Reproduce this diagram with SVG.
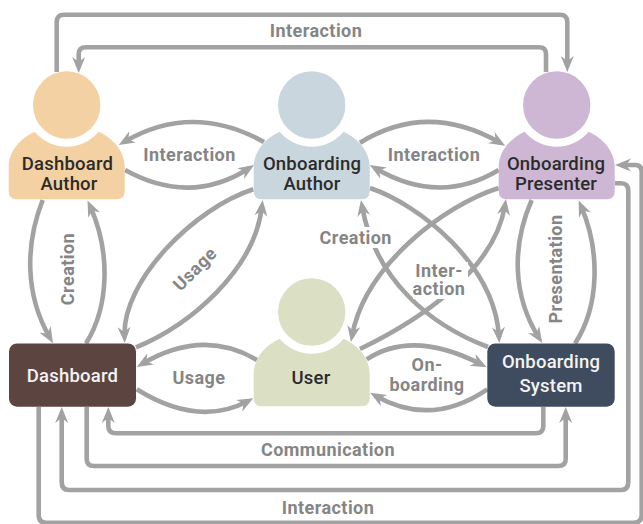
<svg xmlns="http://www.w3.org/2000/svg" width="643" height="524" viewBox="0 0 643 524">
<style>
.c{fill:none;stroke:#a2a2a2;stroke-width:4.6;stroke-linejoin:round}
.a{marker-end:url(#ah)}
.l{font-family:"Roboto","Liberation Sans",sans-serif;font-weight:700;font-size:18px;letter-spacing:.45px;fill:#858585;text-anchor:middle}
.n{font-family:"Roboto","Liberation Sans",sans-serif;font-weight:500;font-size:18.500px;letter-spacing:.2px;fill:#2b2b2b;text-anchor:middle}
.w{fill:#f3f3f3}
</style>
<defs>
<marker id="ah" markerUnits="userSpaceOnUse" markerWidth="20" markerHeight="20" refX="10" refY="8" orient="auto" viewBox="0 0 20 16"><path d="M0 1.500L16 8L0 14.500L5 8Z" fill="#a2a2a2"/></marker>
<path id="person" d="M-32 26.700C-46 33-58 46-58 62V86Q-58 94.300-50 94.300H50Q58 94.300 58 86V62C58 46 46 33 32 26.700A41.500 41.500 0 0 1-32 26.700Z"/>
</defs>
<rect width="643" height="524" fill="#fff"/>
<g id="connectors">
<path class="c a" d="M56.700 72V22Q56.700 14.700 64 14.700H560Q567.300 14.700 567.300 22V66"/>
<path class="c a" d="M546 72V54Q546 47.300 539 47.300H86Q78.700 47.300 78.700 54V67"/>
<path class="c a" d="M264 142Q192 102 124 142"/>
<path class="c a" d="M125 170Q190.500 206 249 168.200"/>
<path class="c a" d="M360 142.700Q427.500 101 500 142.700"/>
<path class="c a" d="M498.700 170Q439 206 375 168"/>
<path class="c a" d="M42.700 200C25 245 25 295 50 338"/>
<path class="c a" d="M86 343.500C110 305 110 250 90 206"/>
<path class="c a" d="M253.300 189.300C195 208 122 280 124.500 337"/>
<path class="c a" d="M136 347.300C190 325 255 270 262 206"/>
<path class="c a" d="M370 188C420 205 495 265 499 337"/>
<path class="c a" d="M488 347C430 325 375 280 362 206"/>
<path class="c a" d="M498.700 188C445 205 365 265 352 336"/>
<path class="c a" d="M360 349C420 320 495 270 505 205"/>
<path class="c a" d="M531.700 200C512 245 512 295 539 338"/>
<path class="c a" d="M575 343.500C600 305 600 250 581 206"/>
<path class="c a" d="M257 360Q203 328 142 364"/>
<path class="c a" d="M136.700 389.300Q198.400 427.600 248 401"/>
<path class="c a" d="M366.700 359.300Q413 329 481.400 364.500"/>
<path class="c a" d="M487.300 389.300Q431 427.600 375.400 395.700"/>
<path class="c a" d="M543.300 407V426Q543.300 433.300 536 433.300H116Q108.300 433.300 108.300 426V413"/>
<path class="c a" d="M86.700 407V459Q86.700 466 94 466H558Q565.700 466 565.700 459V413"/>
<path class="c a" d="M615 183.300H621Q628.300 183.300 628.300 191V482Q628.300 490 621 490H69Q61.700 490 61.700 482V413"/>
<path class="c a" d="M38.700 407V515Q38.700 522.700 46 522.700H634Q641.700 522.700 641.700 515V172Q641.700 165 635 165H621"/>
</g>
<g id="dashboard-author"><circle cx="66.700" cy="105" r="33.700" fill="#f3d1a2"/><use href="#person" x="66.700" y="105" fill="#f3d1a2"/><text class="n" x="67.500" y="170">Dashboard</text><text class="n" x="69" y="190">Author</text></g>
<g id="onboarding-author"><circle cx="311.700" cy="105" r="33.700" fill="#c9d6dd"/><use href="#person" x="311.700" y="105" fill="#c9d6dd"/><text class="n" x="312" y="170">Onboarding</text><text class="n" x="312" y="190">Author</text></g>
<g id="onboarding-presenter"><circle cx="556.700" cy="105" r="33.700" fill="#cdb7d4"/><use href="#person" x="556.700" y="105" fill="#cdb7d4"/><text class="n" x="556" y="170">Onboarding</text><text class="n" x="556" y="190">Presenter</text></g>
<g id="user"><circle cx="311.700" cy="312" r="33.700" fill="#dbe0c4"/><use href="#person" x="311.700" y="312" fill="#dbe0c4"/><text class="n" x="311" y="384">User</text></g>
<g id="dashboard"><rect x="9" y="343.500" width="127" height="63.200" rx="8" fill="#5c4541"/><text class="n w" x="72.500" y="381.700">Dashboard</text></g>
<g id="onboarding-system"><rect x="487.300" y="343.500" width="127.400" height="63.200" rx="8" fill="#3f4c5f"/><text class="n w" x="551" y="368.300">Onboarding</text><text class="n w" x="551" y="391.700">System</text></g>
<g id="labels">
<text class="l" x="316" y="36.500">Interaction</text>
<text class="l" x="189.500" y="160.500">Interaction</text>
<text class="l" x="434" y="160.500">Interaction</text>
<text class="l" transform="translate(74 269) rotate(-90)">Creation</text>
<text class="l" transform="translate(195 269) rotate(-45)" y="6">Usage</text>
<rect x="320" y="227" width="74" height="21" fill="#fff"/>
<text class="l" x="355.700" y="244">Creation</text>
<rect x="413" y="262" width="55" height="37" fill="#fff"/>
<text class="l" x="439" y="277">Inter-</text>
<text class="l" x="439" y="294.500">action</text>
<text class="l" transform="translate(561.700 269) rotate(-90)">Presentation</text>
<text class="l" x="199" y="384">Usage</text>
<text class="l" x="427" y="371">On-</text>
<text class="l" x="427" y="390.500">boarding</text>
<text class="l" x="328" y="455.500">Communication</text>
<text class="l" x="328" y="514">Interaction</text>
</g>
</svg>
